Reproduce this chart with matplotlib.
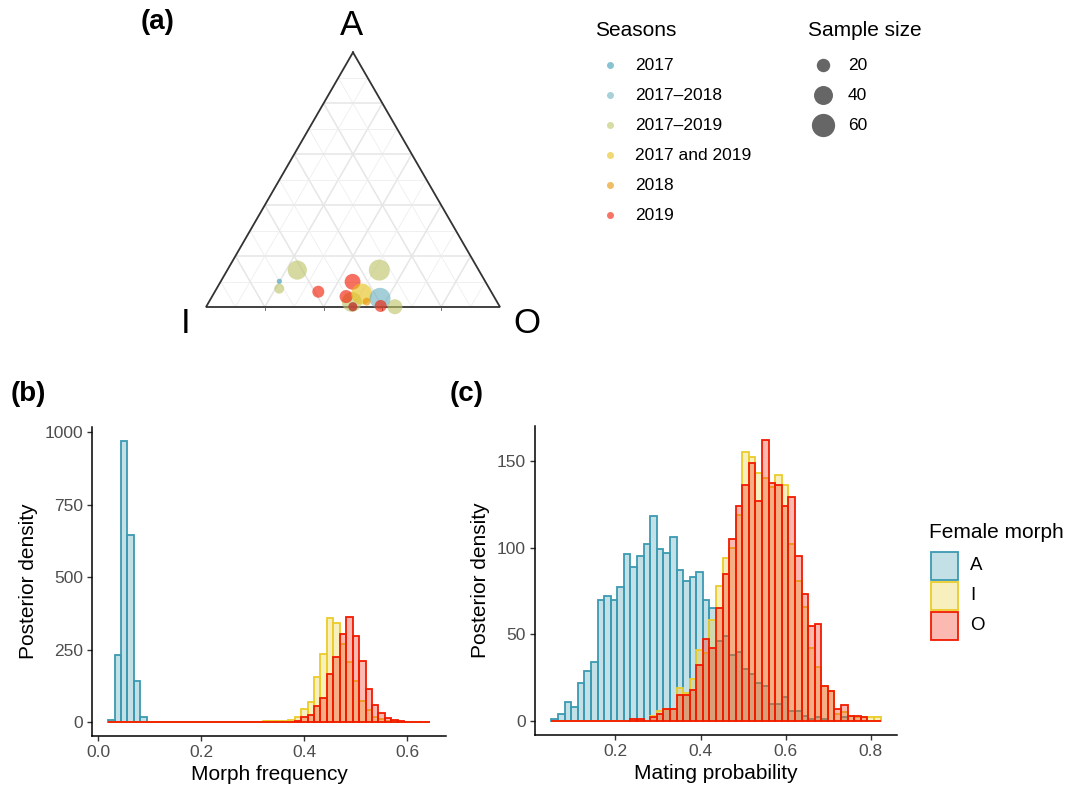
import matplotlib.pyplot as plt
import matplotlib.patches as mpatches
import matplotlib.colors as mcolors
import numpy as np

plt.rcParams['font.family'] = ['Liberation Sans', 'DejaVu Sans']

# ---- (a) ternary data: morph frequencies per population ----
seasons = ['2017', '2017\u20132018', '2017\u20132019', '2017 and 2019', '2018', '2019']
season_cols = ['#3B9AB2', '#6CB1C1', '#BDC468', '#E7C019', '#E49100', '#F21A00']
pt_season = ['2017\u20132019', '2017\u20132019', '2017', '2017\u20132019', '2017\u20132019',
             '2017\u20132019', '2019', '2019', '2019', '2017 and 2019', '2017\u20132018',
             '2018', '2017', '2019', '2019']
pt_A = [0.145, 0.072, 0.101, 0.145, 0.020, 0.001, 0.060, 0.099, 0.041, 0.051, 0.034, 0.021, 0.001, 0.001, 0.004]
pt_I = [0.617, 0.715, 0.700, 0.338, 0.494, 0.357, 0.588, 0.452, 0.503, 0.445, 0.391, 0.443, 0.500, 0.500, 0.404]
pt_O = [0.238, 0.213, 0.199, 0.517, 0.486, 0.642, 0.352, 0.449, 0.456, 0.504, 0.575, 0.536, 0.499, 0.499, 0.592]
pt_n = [41, 11, 3, 49, 44, 25, 16, 28, 19, 49, 49, 7, 9, 9, 16]
size_breaks = [20, 40, 60]

# ---- (b) posterior of morph frequency (counts per bin) ----
b_start, b_width = 0.0194, 0.0125
b_A = [7, 230, 970, 645, 142, 16, 0, 0, 0, 0, 0, 0, 0, 0, 0, 0, 0, 0, 0, 0, 0, 0, 0, 0, 0,
       0, 0, 0, 0, 0, 0, 0, 0, 0, 0, 0, 0, 0, 0, 0, 0, 0, 0, 0, 0, 0, 0, 0, 0, 0]
b_I = [0, 0, 0, 0, 0, 0, 0, 0, 0, 0, 0, 0, 0, 0, 0, 0, 0, 0, 0, 0, 0, 1, 1, 1, 2,
       2, 3, 3, 8, 17, 46, 69, 154, 235, 358, 343, 269, 206, 141, 72, 40, 17, 9, 5, 2, 1, 1, 0, 0, 0]
b_O = [0, 0, 0, 0, 0, 0, 0, 0, 0, 0, 0, 0, 0, 0, 0, 0, 0, 0, 0, 0, 0, 0, 0, 0, 0,
       0, 0, 0, 0, 3, 17, 25, 55, 82, 164, 223, 305, 363, 298, 209, 114, 60, 31, 15, 8, 3, 1, 1, 0, 0]

# ---- (c) posterior of mating probability ----
c_start, c_width = 0.0495, 0.01547
c_A = [1, 4, 11, 8, 22, 29, 34, 70, 72, 70, 77, 96, 89, 95, 102, 118, 99, 97, 106, 87, 81, 83, 86, 70, 65,
       46, 49, 38, 40, 30, 27, 22, 20, 10, 10, 14, 6, 6, 3, 1, 2, 1, 0, 0, 2, 0, 0, 0, 0, 0]
c_I = [0, 0, 0, 0, 0, 0, 0, 0, 0, 0, 0, 0, 0, 0, 0, 3, 6, 7, 7, 19, 16, 24, 41, 39, 58,
       78, 94, 100, 119, 155, 152, 143, 140, 135, 142, 136, 102, 81, 66, 42, 31, 20, 17, 4, 5, 3, 2, 2, 2, 2]
c_O = [0, 0, 0, 0, 0, 0, 0, 0, 0, 0, 0, 0, 1, 1, 0, 2, 4, 7, 7, 15, 15, 18, 32, 47, 42,
       65, 85, 105, 124, 136, 149, 127, 162, 137, 136, 124, 129, 95, 73, 55, 56, 20, 17, 7, 9, 3, 3, 2, 0, 0]

morphs = ['A', 'I', 'O']
morph_cols = ['#3B9AB2', '#EBCC2A', '#F21A00']

W, H = 1065, 788
fig = plt.figure(figsize=(W / 100, H / 100), dpi=100)

TXT = '#4D4D4D'
TICK_FS = 12.5
TITLE_FS = 15
LEG_FS = 12.5


def s_of(n):
    # marker area (pt^2) for a sample size; diameter in px = 3*sqrt(n)
    return (3.0 * np.sqrt(np.asarray(n, float)) * 0.72) ** 2


# ---------- ternary panel ----------
h = np.sqrt(3) / 2
axT = fig.add_axes([150 / W, (H - 340) / H, 410 / W, 320 / H])
axT.set_xlim(-56 / 294, 354 / 294)
axT.set_ylim(-33 / 294, 287 / 294)
axT.axis('off')


def tern(a, i, o):
    a, i, o = np.asarray(a, float), np.asarray(i, float), np.asarray(o, float)
    s = a + i + o
    return (o + a / 2) / s, a * h / s


for k in range(1, 10):
    c = k / 10
    major = k % 2 == 0
    lw = 1.1 if major else 0.6
    col = '#E6E6E6' if major else '#EEEEEE'
    for p, q in [((c, 1 - c, 0), (c, 0, 1 - c)),
                 ((1 - c, c, 0), (0, c, 1 - c)),
                 ((1 - c, 0, c), (0, 1 - c, c))]:
        x0, y0 = tern(*p)
        x1, y1 = tern(*q)
        axT.plot([x0, x1], [y0, y1], color=col, lw=lw, zorder=1, solid_capstyle='butt')

tx, ty = tern([1, 0, 0, 1], [0, 1, 0, 0], [0, 0, 1, 0])
axT.plot(tx, ty, color='#333333', lw=1.3, zorder=2, solid_joinstyle='miter')

# small ticks on the bottom edge
tl = 3 / 294
for k in (2, 4, 6, 8):
    x, y = tern(0, 1 - k / 10, k / 10)
    axT.plot([x, x], [y, y - tl], color='#555555', lw=0.6)

px, py = tern(pt_A, pt_I, pt_O)
cmap = dict(zip(seasons, season_cols))
axT.scatter(px, py, s=s_of(pt_n), c=[cmap[s] for s in pt_season], alpha=0.62,
            linewidths=0, zorder=3)


# ---------- histogram panels ----------
def hist_panel(rect, start, width, series, yticks, xticks, xlabel, ylab_x):
    ax = fig.add_axes(rect)
    nb = len(series[0])
    centers = start + width * (np.arange(nb) + 0.5)
    for vals, col in zip(series, morph_cols):
        ax.bar(centers, vals, width=width, facecolor=mcolors.to_rgba(col, 0.3),
               edgecolor=col, linewidth=1.3, zorder=2)
    lo, hi = start, start + width * nb
    pad = 0.05 * (hi - lo)
    ax.set_xlim(lo - pad, hi + pad)
    ymax = max(max(v) for v in series)
    ax.set_ylim(-0.05 * ymax, 1.05 * ymax)
    ax.set_xticks(xticks)
    ax.set_xticklabels(['%.1f' % t for t in xticks])
    ax.set_yticks(yticks)
    ax.set_yticklabels([str(t) for t in yticks])
    for s in ('top', 'right'):
        ax.spines[s].set_visible(False)
    for s in ('left', 'bottom'):
        ax.spines[s].set_linewidth(1.1)
        ax.spines[s].set_color('black')
    ax.tick_params(length=3.5, width=1.0, color='#333333', labelcolor=TXT,
                   labelsize=TICK_FS, pad=3.0)
    ax.set_xlabel(xlabel, fontsize=TITLE_FS, color='black')
    ax.set_ylabel('Posterior density', fontsize=TITLE_FS, color='black')
    ax.xaxis.set_label_coords(0.5, -0.095)
    ax.yaxis.set_label_coords(ylab_x, 0.5)
    return ax


axB = hist_panel([92 / W, 52 / H, 354 / W, 309 / H], b_start, b_width, [b_A, b_I, b_O],
                 [0, 250, 500, 750, 1000], [0.0, 0.2, 0.4, 0.6], 'Morph frequency', -0.152)
axC = hist_panel([535 / W, 53 / H, 362 / W, 309 / H], c_start, c_width, [c_A, c_I, c_O],
                 [0, 50, 100, 150], [0.2, 0.4, 0.6, 0.8], 'Mating probability', -0.125)

# ---------- overlay: labels and legends ----------
axO = fig.add_axes([0, 0, 1, 1], zorder=10)
axO.set_xlim(0, W)
axO.set_ylim(H, 0)
axO.axis('off')

axO.text(158, 22, '(a)', fontsize=20, fontweight='bold', ha='center', va='center')
axO.text(28, 394, '(b)', fontsize=20, fontweight='bold', ha='center', va='center')
axO.text(467, 394, '(c)', fontsize=20, fontweight='bold', ha='center', va='center')

axO.text(352, 25, 'A', fontsize=25, ha='center', va='center')
axO.text(186, 323, 'I', fontsize=25, ha='center', va='center')
axO.text(527, 323, 'O', fontsize=25, ha='center', va='center')

# Seasons legend
axO.text(595, 30, 'Seasons', fontsize=TITLE_FS, ha='left', va='center')
for j, (lab, col) in enumerate(zip(seasons, season_cols)):
    yy = 65 + 30 * j
    axO.scatter([610], [yy], s=(7 * 0.72) ** 2, color=col, alpha=0.6, linewidths=0)
    axO.text(635, yy, lab, fontsize=LEG_FS, ha='left', va='center')

# Sample size legend
axO.text(808, 30, 'Sample size', fontsize=TITLE_FS, ha='left', va='center')
for j, n in enumerate(size_breaks):
    yy = 65 + 30 * j
    axO.scatter([823], [yy], s=s_of(n), color='#666666', linewidths=0)
    axO.text(848, yy, str(n), fontsize=LEG_FS, ha='left', va='center')

# Female morph legend
axO.text(929, 532, 'Female morph', fontsize=TITLE_FS, ha='left', va='center')
for j, (m, col) in enumerate(zip(morphs, morph_cols)):
    y0 = 552 + 30 * j
    axO.add_patch(mpatches.Rectangle((931, y0), 27, 28, facecolor=mcolors.to_rgba(col, 0.3),
                                     edgecolor=col, linewidth=1.3))
    axO.text(970, y0 + 14, m, fontsize=LEG_FS + 1, ha='left', va='center')

fig.savefig('out.png', dpi=100)
